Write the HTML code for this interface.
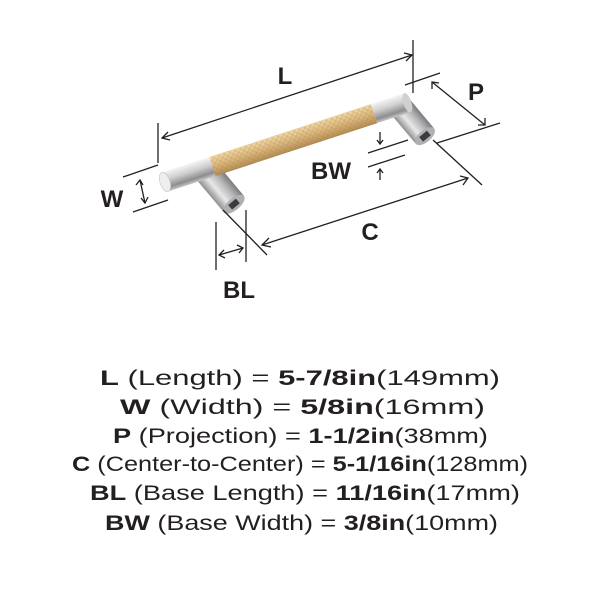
<!DOCTYPE html>
<html><head><meta charset="utf-8"><style>
html,body{margin:0;padding:0;background:#fff;}
svg{display:block;}
text{font-family:"Liberation Sans",sans-serif;fill:#231f20;}
</style></head><body>
<svg width="600" height="600" viewBox="0 0 600 600" xmlns="http://www.w3.org/2000/svg">
<defs>
<linearGradient id="sil" x1="0" y1="0" x2="0" y2="1">
<stop offset="0" stop-color="#f4f4f4"/><stop offset="0.4" stop-color="#cfcfd0"/><stop offset="0.8" stop-color="#8d8d90"/><stop offset="1" stop-color="#c8c8c8"/></linearGradient>
<linearGradient id="post" x1="0" y1="0" x2="1" y2="0">
<stop offset="0" stop-color="#8f8f92"/><stop offset="0.35" stop-color="#e8e8e8"/><stop offset="0.7" stop-color="#b5b5b7"/><stop offset="1" stop-color="#7a7a7d"/></linearGradient>
<linearGradient id="gold" x1="0" y1="0" x2="0" y2="1">
<stop offset="0" stop-color="#f1d9a6"/><stop offset="0.5" stop-color="#d9b57a"/><stop offset="1" stop-color="#b08a52"/></linearGradient>
<pattern id="knurl" width="4" height="4" patternUnits="userSpaceOnUse" patternTransform="rotate(45)">
<rect width="4" height="4" fill="none"/><path d="M0 0H4M0 0V4" stroke="#a9824b" stroke-width="0.7" opacity="0.6"/></pattern>
</defs>
<!-- posts -->
<g transform="translate(207,172) rotate(-40)">
<rect x="-13" y="0" width="26" height="42" fill="url(#post)"/>
<ellipse cx="0" cy="42" rx="13" ry="6" fill="#b0b0b2"/>
<rect x="-5" y="39" width="10" height="6" fill="#3b3b3d"/>
</g>
<g transform="translate(398,104) rotate(-40)">
<rect x="-12" y="0" width="24" height="42" fill="url(#post)"/>
<ellipse cx="0" cy="42" rx="12" ry="6" fill="#b0b0b2"/>
<rect x="-5" y="39" width="10" height="6" fill="#3b3b3d"/>
</g>
<!-- bar -->
<g transform="translate(165,182) rotate(-18.1)">
<rect x="0" y="-10" width="50" height="20" fill="url(#sil)"/>
<rect x="50" y="-10" width="170" height="20" fill="url(#gold)"/>
<rect x="50" y="-10" width="170" height="20" fill="url(#knurl)"/>
<rect x="220" y="-10" width="35" height="20" fill="url(#sil)"/>
<ellipse cx="255" cy="0" rx="4" ry="10" fill="#d0d0d0"/>
<ellipse cx="0" cy="0" rx="5" ry="10" fill="#eeeeee" stroke="#bbb" stroke-width="0.5"/>
</g>
<!-- dimension lines -->
<g stroke="#231f20" stroke-width="1.3" fill="none">
<line x1="162" y1="138" x2="412" y2="55"/>
<polyline points="168,132 162,138 170,140"/><polyline points="404,53 412,55 406,61"/>
<line x1="158" y1="123" x2="158" y2="163"/>
<line x1="413" y1="40" x2="413" y2="93"/>
<line x1="432" y1="82" x2="485" y2="125"/>
<polyline points="432,89 432,82 439,83"/><polyline points="478,125 485,125 485,118"/>
<line x1="405" y1="85" x2="440" y2="73"/>
<line x1="437" y1="143" x2="500" y2="123"/>
<line x1="123" y1="177" x2="158" y2="165"/>
<line x1="133" y1="212" x2="168" y2="200"/>
<line x1="140" y1="180" x2="145" y2="203"/>
<polyline points="136,185 140,180 143,185"/><polyline points="141,198 145,203 148,197"/>
<line x1="368" y1="153" x2="408" y2="140"/>
<line x1="368" y1="167" x2="405" y2="155"/>
<line x1="380" y1="132" x2="380" y2="144"/><polyline points="377,140 380,144 383,140"/>
<line x1="380" y1="169" x2="380" y2="180"/><polyline points="377,173 380,169 383,173"/>
<line x1="262" y1="245" x2="468" y2="178"/>
<polyline points="269,238 262,245 271,247"/><polyline points="460,176 468,178 463,185"/>
<line x1="223" y1="210" x2="267" y2="255"/>
<line x1="433" y1="140" x2="482" y2="185"/>
<line x1="216" y1="222" x2="216" y2="270"/>
<line x1="246" y1="210" x2="246" y2="262"/>
<line x1="219" y1="255" x2="243" y2="248"/>
<polyline points="224,250 219,255 225,258"/><polyline points="237,245 243,248 239,253"/>
</g>
<g font-weight="bold" font-size="24">
<text x="285" y="84" text-anchor="middle">L</text>
<text x="476" y="100" text-anchor="middle">P</text>
<text x="112" y="207" text-anchor="middle">W</text>
<text x="331" y="179" text-anchor="middle">BW</text>
<text x="370" y="240" text-anchor="middle">C</text>
<text x="239" y="298" text-anchor="middle">BL</text>
</g>
<g font-size="21">
<text x="100" y="385" textLength="400" lengthAdjust="spacingAndGlyphs"><tspan font-weight="bold">L</tspan> (Length) = <tspan font-weight="bold">5-7/8in</tspan>(149mm)</text>
<text x="120" y="414" textLength="365" lengthAdjust="spacingAndGlyphs"><tspan font-weight="bold">W</tspan> (Width) = <tspan font-weight="bold">5/8in</tspan>(16mm)</text>
<text x="113" y="443" textLength="375" lengthAdjust="spacingAndGlyphs"><tspan font-weight="bold">P</tspan> (Projection) = <tspan font-weight="bold">1-1/2in</tspan>(38mm)</text>
<text x="72" y="471" textLength="456" lengthAdjust="spacingAndGlyphs"><tspan font-weight="bold">C</tspan> (Center-to-Center) = <tspan font-weight="bold">5-1/16in</tspan>(128mm)</text>
<text x="90" y="500" textLength="430" lengthAdjust="spacingAndGlyphs"><tspan font-weight="bold">BL</tspan> (Base Length) = <tspan font-weight="bold">11/16in</tspan>(17mm)</text>
<text x="105" y="530" textLength="393" lengthAdjust="spacingAndGlyphs"><tspan font-weight="bold">BW</tspan> (Base Width) = <tspan font-weight="bold">3/8in</tspan>(10mm)</text>
</g>
</svg>
</body></html>
